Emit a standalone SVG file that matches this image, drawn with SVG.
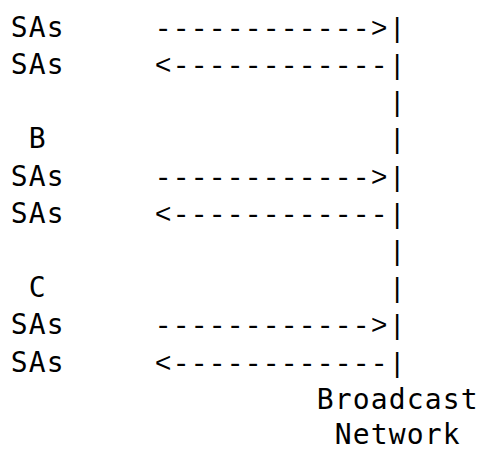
<svg xmlns="http://www.w3.org/2000/svg" width="480" height="451" viewBox="0 0 480 451">
<style>
text{font-family:"DejaVu Sans Mono","Liberation Mono",monospace;font-size:28px;letter-spacing:1.14px;fill:#000;white-space:pre}
.c{font-family:"Liberation Mono","DejaVu Sans Mono",monospace;letter-spacing:1.2px}
</style>
<rect width="480" height="451" fill="#fff"/>
<g id="sa-a-out"><text x="10.7" y="36.7">SAs</text></g>
<g id="sa-a-in"><text x="10.7" y="73.9">SAs</text></g>
<g id="node-b"><text x="28.7" y="148.3">B</text></g>
<g id="sa-b-out"><text x="10.7" y="185.5">SAs</text></g>
<g id="sa-b-in"><text x="10.7" y="222.7">SAs</text></g>
<g id="node-c"><text x="28.7" y="297.1">C</text></g>
<g id="sa-c-out"><text x="10.7" y="334.3">SAs</text></g>
<g id="sa-c-in"><text x="10.7" y="371.5">SAs</text></g>
<g id="broadcast-network"><text x="316.7" y="408.7">Broadcast</text><text x="334.7" y="444">Network</text></g>
<g id="connectors">
<text class="c" x="154.7" y="36.7">------------&gt;|</text>
<text class="c" x="154.7" y="73.9">&lt;------------|</text>
<text class="c" x="388.7" y="111.1">|</text>
<text class="c" x="388.7" y="148.3">|</text>
<text class="c" x="154.7" y="185.5">------------&gt;|</text>
<text class="c" x="154.7" y="222.7">&lt;------------|</text>
<text class="c" x="388.7" y="259.9">|</text>
<text class="c" x="388.7" y="297.1">|</text>
<text class="c" x="154.7" y="334.3">------------&gt;|</text>
<text class="c" x="154.7" y="371.5">&lt;------------|</text>
</g>
</svg>
